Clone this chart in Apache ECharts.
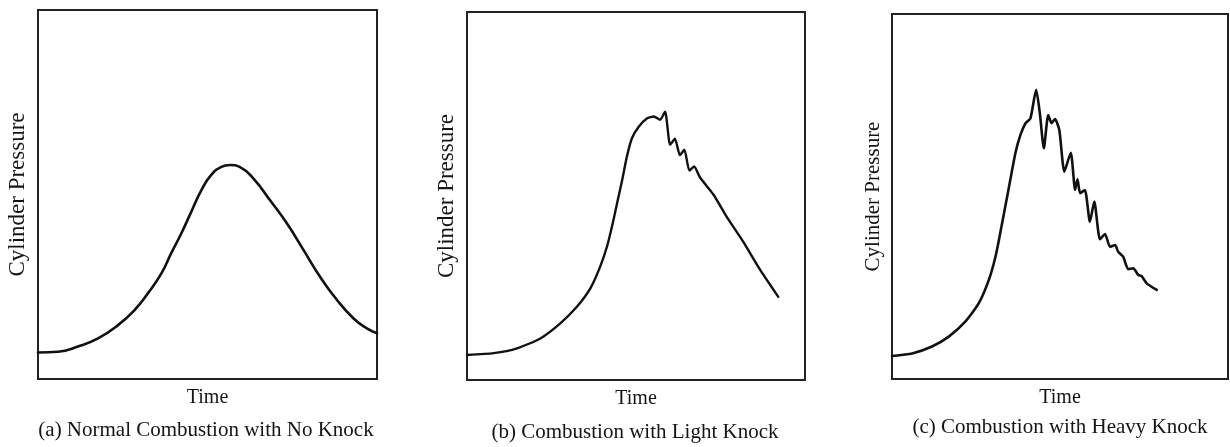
<!DOCTYPE html>
<html>
<head>
<meta charset="utf-8">
<script src="https://cdn.jsdelivr.net/npm/echarts@6/dist/echarts.min.js"></script>
<style>
  html, body { margin: 0; padding: 0; background: #fff; }
  #chart { width: 1230px; height: 447px; }
</style>
</head>
<body>
<div id="chart"></div>
<script>
// Cylinder pressure traces, [time, pressure] in relative units (0-100)
const normalTrace = [
  [0, 7.2], [5.9, 7.4], [11.8, 8.8], [17.7, 11.0], [23.6, 14.6], [28.5, 18.7],
  [32.4, 23.2], [36.4, 28.6], [39.3, 34.1], [42.3, 39.5], [45.2, 45.3], [48.2, 51.2],
  [51.1, 55.3], [54.1, 57.5], [56.6, 58.0], [59.6, 57.4], [63.5, 54.4], [68.4, 48.5],
  [73.4, 42.2], [78.3, 35.0], [83.2, 27.7], [88.2, 21.4], [93.1, 16.4], [97.0, 13.7],
  [100, 12.4]
];
const lightKnockTrace = [
  [0, 6.8], [7.9, 7.3], [14.8, 8.6], [21.7, 11.3], [27.6, 15.4], [32.5, 19.9],
  [36.5, 24.9], [39.4, 30.8], [41.4, 36.2], [42.9, 41.7], [44.4, 48.0], [45.9, 54.3],
  [47.3, 60.7], [48.8, 65.7], [50.8, 68.8], [53.3, 71.1], [55.3, 71.6], [57.1, 70.7],
  [58.6, 72.9], [60.1, 63.9], [61.5, 65.6], [63.0, 61.1], [64.3, 62.6], [65.8, 56.9],
  [67.2, 58.0], [68.9, 55.1], [72.9, 50.4], [76.8, 44.4], [81.7, 37.6], [86.7, 30.0],
  [92.1, 22.6]
];
const heavyKnockTrace = [
  [0, 6.3], [6.0, 7.0], [11.9, 8.9], [16.9, 11.6], [21.8, 15.7], [25.8, 20.7],
  [28.8, 27.1], [30.8, 33.5], [32.2, 39.9], [33.7, 47.2], [35.2, 54.5], [36.7, 61.8],
  [38.2, 66.8], [39.7, 70.0], [41.2, 71.4], [42.9, 79.2], [44.0, 72.8], [45.2, 63.2],
  [46.5, 72.3], [47.5, 70.1], [48.5, 71.2], [49.8, 68.2], [51.3, 56.8], [53.2, 62.0],
  [54.5, 51.8], [55.2, 54.7], [56.0, 50.9], [57.4, 51.8], [58.9, 43.1], [60.2, 48.6],
  [61.9, 38.3], [63.4, 39.7], [64.9, 36.2], [66.4, 36.7], [67.3, 34.9], [68.8, 33.5],
  [70.3, 30.1], [71.8, 30.3], [73.3, 28.5], [74.3, 28.2], [75.8, 26.2], [78.8, 24.4]
];

const xAxisTitle = 'Time';
const yAxisTitle = 'Cylinder Pressure';
const captions = [
  '(a) Normal Combustion with No Knock',
  '(b) Combustion with Light Knock',
  '(c) Combustion with Heavy Knock'
];

const ink = '#141414';
const serif = '"Liberation Serif", "DejaVu Serif", serif';

const panels = [
  { left: 38, top: 10, width: 339, height: 369, yFont: 23, yGap: 9, capX: 206, capY: 430, data: normalTrace, smooth: 0.5, lw: 2.6 },
  { left: 467, top: 12, width: 338, height: 368, yFont: 23, yGap: 9, capX: 635, capY: 432, data: lightKnockTrace, smooth: 0.2, lw: 2.4 },
  { left: 892, top: 14, width: 336, height: 365, yFont: 21, yGap: 8, capX: 1060, capY: 427, data: heavyKnockTrace, smooth: 0.2, lw: 2.6 }
];

const option = {
  backgroundColor: '#fff',
  animation: false,
  grid: panels.map(p => ({
    left: p.left, top: p.top, width: p.width, height: p.height,
    show: true, borderColor: '#222', borderWidth: 2, backgroundColor: 'transparent'
  })),
  xAxis: panels.map((p, i) => ({
    type: 'value', gridIndex: i, min: 0, max: 100,
    axisLine: { show: false }, axisTick: { show: false },
    axisLabel: { show: false }, splitLine: { show: false },
    name: xAxisTitle, nameLocation: 'middle', nameGap: 9,
    nameTextStyle: { fontFamily: serif, fontSize: 20, color: ink }
  })),
  yAxis: panels.map((p, i) => ({
    type: 'value', gridIndex: i, min: 0, max: 100,
    axisLine: { show: false }, axisTick: { show: false },
    axisLabel: { show: false }, splitLine: { show: false },
    name: yAxisTitle, nameLocation: 'middle', nameGap: p.yGap,
    nameTextStyle: { fontFamily: serif, fontSize: p.yFont, color: ink }
  })),
  series: panels.map((p, i) => ({
    type: 'line', xAxisIndex: i, yAxisIndex: i,
    data: p.data, smooth: p.smooth, showSymbol: false,
    lineStyle: { color: '#111', width: p.lw, join: 'round', cap: 'round' }
  })),
  graphic: panels.map((p, i) => ({
    type: 'text', x: p.capX, y: p.capY,
    style: {
      text: captions[i], fill: ink, font: '21px ' + serif,
      textAlign: 'center', textVerticalAlign: 'middle'
    }
  }))
};

const chart = echarts.init(document.getElementById('chart'), null, { renderer: 'canvas' });
chart.setOption(option);
</script>
</body>
</html>
